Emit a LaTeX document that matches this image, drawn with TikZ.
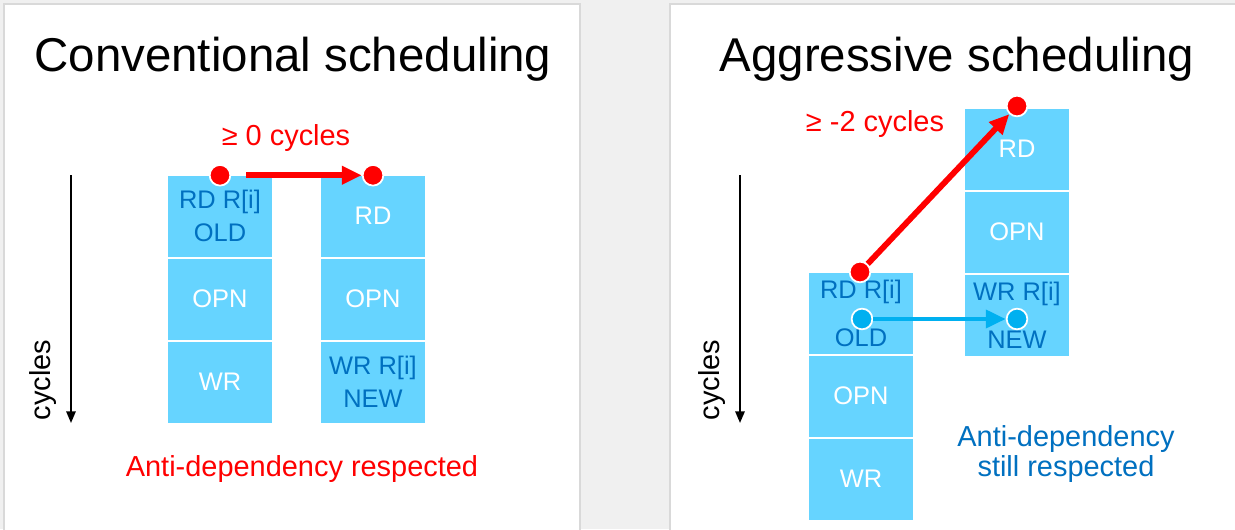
\documentclass[tikz,border=0pt]{standalone}
\usepackage{fontspec}
\setmainfont{Liberation Sans}
\usetikzlibrary{arrows.meta}
\definecolor{stagefill}{RGB}{102,212,255}
\definecolor{regblue}{RGB}{0,112,192}
\definecolor{depblue}{RGB}{0,176,240}
\definecolor{backgray}{RGB}{240,240,240}
\definecolor{edgegray}{RGB}{217,217,217}

\begin{document}
\begin{tikzpicture}
      [x=0.03cm, y=-0.03cm,
       panel/.style={fill=white, draw=edgegray, line width=2pt},
       title/.style={font=\fontsize{40.5}{48}\selectfont},
       stage/.style={fill=stagefill, minimum width=3.12cm, minimum height=2.43cm,
         inner sep=0pt, align=center, text=white, font=\fontsize{21.7}{28}\selectfont},
       reg/.style={text=regblue},
       note/.style={font=\fontsize{24.7}{25}\selectfont, align=center},
       dot/.style={circle, fill=#1, draw=white, line width=1.5pt,
         minimum size=0.62cm, inner sep=0pt},
       dep/.style={line width=#1, -{Triangle[length=17pt, width=15pt]}},
       axis/.style={line width=1.7pt, -{Triangle[length=10pt, width=8pt]}}]
      \clip (0,0) rectangle (1235,529);
      \fill[backgray] (0,0) rectangle (1235,529);
      \draw[panel] (4,4) rectangle (580,545);
      \draw[panel] (670,4) rectangle (1250,545);

      % conventional
      \node[title] (convtitle) at (293,59) {Conventional scheduling};
      \node[stage, reg] (rdold) at (220,216) {RD R[i]\\OLD};
      \node[stage] (opnold) at (220,299) {OPN};
      \node[stage] (wrold) at (220,382) {WR};
      \node[stage] (rdnew) at (373,216) {RD};
      \node[stage] (opnnew) at (373,299) {OPN};
      \node[stage, reg] (wrnew) at (373,382) {WR R[i]\\NEW};
      \node[dot=red] (readA) at (rdold.north) {};
      \node[dot=red] (readB) at (rdnew.north) {};
      \draw[dep=5pt, red, shorten <=13pt] (readA) -- (readB);
      \node[note, red] (gezero) at (286,138) {≥ 0 cycles};
      \node[note, red] (respA) at (302,469) {Anti-dependency respected};
      \coordinate (timeA) at (71,175);
      \coordinate (timeAend) at (71,423);
      \draw[axis] (timeA) -- (timeAend);
      \node[note, rotate=90] (cyclesA) at (43,380) {cycles};

      % aggressive
      \node[title] (aggrtitle) at (957,59) {Aggressive scheduling};
      \node[stage, reg] (rdfirst) at (861,313) {RD R[i]\\[13pt]OLD};
      \node[stage] (opnfirst) at (861,396) {OPN};
      \node[stage] (wrfirst) at (861,479) {WR};
      \node[stage] (rdsecond) at (1017,149) {RD};
      \node[stage] (opnsecond) at (1017,232) {OPN};
      \node[stage, reg] (wrsecond) at (1017,315) {WR R[i]\\[13pt]NEW};
      \node[dot=red] (readC) at (860,272) {};
      \node[dot=red] (readD) at (1017,106) {};
      \node[dot=depblue] (oldval) at (862,319) {};
      \node[dot=depblue] (newval) at (1017,319) {};
      \draw[dep=5pt, red] (readC) -- (readD);
      \draw[dep=4pt, depblue] (oldval) -- (newval);
      \node[note, red] (geminus) at (875,124) {≥ -2 cycles};
      \node[note, regblue] (respB) at (1066,454) {Anti-dependency\\still respected};
      \coordinate (timeB) at (740,175);
      \coordinate (timeBend) at (740,423);
      \draw[axis] (timeB) -- (timeBend);
      \node[note, rotate=90] (cyclesB) at (712,380) {cycles};
\end{tikzpicture}
\end{document}
